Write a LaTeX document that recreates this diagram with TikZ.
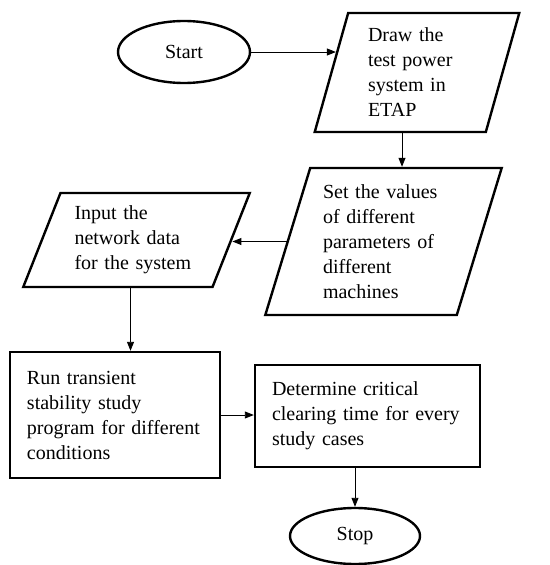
\documentclass[tikz,border=0pt]{standalone}
\usepackage{fontspec}
\setmainfont{Liberation Serif}
\newfontfamily\timesfont{Liberation Serif}
\usetikzlibrary{shapes.geometric,arrows.meta,calc}

\begin{document}
\begin{tikzpicture}
                [x=1pt, y=-1pt,
                    every node/.style={font=\timesfont\fontsize{20}{25}\selectfont, align=left, inner sep=0pt},
                    terminal/.style={ellipse, draw, line width=2.4pt},
                    iobox/.style={trapezium, draw, line width=2.4pt, trapezium stretches=true},
                    procbox/.style={rectangle, draw, line width=2.4pt},
                    arr/.style={-{Triangle[length=9pt,width=7pt]}, line width=0.9pt},
                ]
                \useasboundingbox (0,0) rectangle (549,565);
                \node[terminal, minimum width=132pt, minimum height=62pt] (start) at (184,52) {Start};
                \node[iobox, trapezium left angle=75, trapezium right angle=105,
                    minimum width=205pt, minimum height=119pt, text width=98pt] (drawsys) at (417,72.5)
                    {Draw the\\test power\\system in\\ETAP};
                \node[iobox, trapezium left angle=72, trapezium right angle=108,
                    minimum width=237pt, minimum height=147pt, text width=121pt] (setval) at (383.5,241.5)
                    {Set the values\\of different\\parameters of\\different\\machines};
                \node[iobox, trapezium left angle=66, trapezium right angle=114,
                    minimum width=227pt, minimum height=94pt, text width=124pt] (input) at (136.5,240)
                    {Input the\\network data\\for the system};
                \node[procbox, minimum width=210pt, minimum height=126pt, text width=176pt] (run) at (115,415)
                    {Run transient\\stability study\\program for different\\conditions};
                \node[procbox, minimum width=225pt, minimum height=102pt, text width=191pt] (determine) at (367.5,416)
                    {Determine critical\\clearing time for every\\study cases};
                \node[terminal, minimum width=130pt, minimum height=56pt] (stop) at (355,536) {Stop};
                \draw[arr] (start.east) -- (start.east -| drawsys.166);
                \draw[arr] ($(drawsys.south)+(-15,0)$) -- ($(drawsys.south |- setval.north)+(-15,0)$);
                \draw[arr] (setval.west) -- (setval.west -| input.east);
                \draw[arr] ($(input.south)+(-6,0)$) -- ($(input.south |- run.north)+(-6,0)$);
                \draw[arr] (run.east) -- (run.east -| determine.west);
                \draw[arr] (stop.north |- determine.south) -- (stop.north);
            \end{tikzpicture}
\end{document}
